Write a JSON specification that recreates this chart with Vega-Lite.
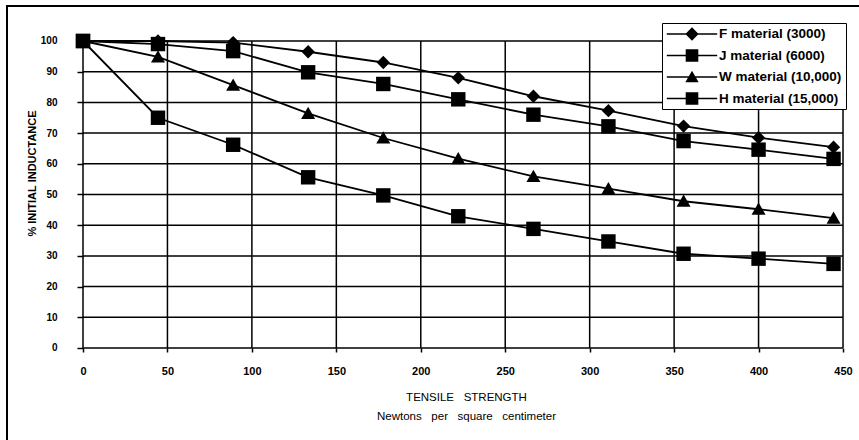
{
  "$schema": "https://vega.github.io/schema/vega-lite/v6.json",
  "width": 852,
  "height": 434,
  "autosize": {"type": "none"},
  "padding": {"left": 7, "top": 6, "right": 0, "bottom": 0},
  "background": "white",
  "view": {"stroke": "black", "strokeWidth": 2, "strokeDash": [852, 1286, 434], "strokeDashOffset": 0},
  "config": {
    "font": "Liberation Sans",
    "axisX": {
      "orient": "bottom", "zindex": 2,
      "domain": false, "grid": false, "offset": -92,
      "tickSize": 4, "tickColor": "black", "tickWidth": 1.5,
      "labelFont": "Liberation Sans", "labelFontWeight": "bold", "labelFontSize": 11, "labelColor": "black",
      "labelPadding": 13, "labelFlush": false, "labelOverlap": false,
      "titleFont": "Liberation Sans", "titleFontWeight": "normal", "titleFontSize": 11.5, "titleColor": "black",
      "titleX": 459, "titleY": 43.5, "titleAlign": "center", "titleBaseline": "top", "titleLineHeight": 18.5
    },
    "axisY": {
      "orient": "left", "zindex": 2,
      "domain": false, "grid": false, "offset": -76,
      "tickSize": 6, "tickColor": "black", "tickWidth": 1.5,
      "labelFont": "Liberation Sans Narrow, Liberation Sans", "labelFontWeight": "bold", "labelFontSize": 10, "labelColor": "black",
      "labelPadding": 20, "labelFlush": false, "labelOverlap": false,
      "titleFont": "Liberation Sans Narrow, Liberation Sans", "titleFontWeight": "bold", "titleFontSize": 11, "titleColor": "black",
      "titleX": -51, "titleY": 167, "titleAngle": 270, "titleAlign": "center", "titleBaseline": "middle"
    }
  },
  "datasets": {
    "series": [
      {"material": "F material (3000)", "x": 0, "y": 100},
      {"material": "F material (3000)", "x": 44.4, "y": 100},
      {"material": "F material (3000)", "x": 88.9, "y": 99.5},
      {"material": "F material (3000)", "x": 133.3, "y": 96.5},
      {"material": "F material (3000)", "x": 177.8, "y": 93},
      {"material": "F material (3000)", "x": 222.2, "y": 88},
      {"material": "F material (3000)", "x": 266.7, "y": 82},
      {"material": "F material (3000)", "x": 311.1, "y": 77.3},
      {"material": "F material (3000)", "x": 355.6, "y": 72.3},
      {"material": "F material (3000)", "x": 400, "y": 68.5},
      {"material": "F material (3000)", "x": 444.4, "y": 65.4},
      {"material": "J material (6000)", "x": 0, "y": 100},
      {"material": "J material (6000)", "x": 44.4, "y": 99},
      {"material": "J material (6000)", "x": 88.9, "y": 96.7},
      {"material": "J material (6000)", "x": 133.3, "y": 89.8},
      {"material": "J material (6000)", "x": 177.8, "y": 86},
      {"material": "J material (6000)", "x": 222.2, "y": 81},
      {"material": "J material (6000)", "x": 266.7, "y": 76},
      {"material": "J material (6000)", "x": 311.1, "y": 72.2},
      {"material": "J material (6000)", "x": 355.6, "y": 67.4},
      {"material": "J material (6000)", "x": 400, "y": 64.6},
      {"material": "J material (6000)", "x": 444.4, "y": 61.6},
      {"material": "W material (10,000)", "x": 0, "y": 100},
      {"material": "W material (10,000)", "x": 44.4, "y": 94.8},
      {"material": "W material (10,000)", "x": 88.9, "y": 85.6},
      {"material": "W material (10,000)", "x": 133.3, "y": 76.4},
      {"material": "W material (10,000)", "x": 177.8, "y": 68.4},
      {"material": "W material (10,000)", "x": 222.2, "y": 61.7},
      {"material": "W material (10,000)", "x": 266.7, "y": 55.9},
      {"material": "W material (10,000)", "x": 311.1, "y": 51.9},
      {"material": "W material (10,000)", "x": 355.6, "y": 47.8},
      {"material": "W material (10,000)", "x": 400, "y": 45.2},
      {"material": "W material (10,000)", "x": 444.4, "y": 42.3},
      {"material": "H material (15,000)", "x": 0, "y": 100},
      {"material": "H material (15,000)", "x": 44.4, "y": 75},
      {"material": "H material (15,000)", "x": 88.9, "y": 66.2},
      {"material": "H material (15,000)", "x": 133.3, "y": 55.6},
      {"material": "H material (15,000)", "x": 177.8, "y": 49.7},
      {"material": "H material (15,000)", "x": 222.2, "y": 42.9},
      {"material": "H material (15,000)", "x": 266.7, "y": 38.8},
      {"material": "H material (15,000)", "x": 311.1, "y": 34.7},
      {"material": "H material (15,000)", "x": 355.6, "y": 30.7},
      {"material": "H material (15,000)", "x": 400, "y": 29.1},
      {"material": "H material (15,000)", "x": 444.4, "y": 27.4}
    ],
    "gridx": [{"gx": 0}, {"gx": 50}, {"gx": 100}, {"gx": 150}, {"gx": 200}, {"gx": 250}, {"gx": 300}, {"gx": 350}, {"gx": 400}, {"gx": 450}],
    "gridy": [{"gy": 0}, {"gy": 10}, {"gy": 20}, {"gy": 30}, {"gy": 40}, {"gy": 50}, {"gy": 60}, {"gy": 70}, {"gy": 80}, {"gy": 90}, {"gy": 100}]
  },
  "resolve": {"scale": {"shape": "independent"}, "legend": {"shape": "independent"}},
  "layer": [
    {
      "data": {"name": "gridx"},
      "mark": {"type": "rule", "color": "black", "strokeWidth": 1.5},
      "encoding": {
        "x": {"field": "gx", "type": "quantitative", "scale": {"domain": [-45, 459.47], "nice": false, "zero": false}, "title": ["TENSILE\u00a0\u00a0 STRENGTH", "Newtons\u00a0\u00a0 per\u00a0\u00a0 square\u00a0\u00a0 centimeter"], "axis": {"values": [0, 50, 100, 150, 200, 250, 300, 350, 400, 450], "format": "d"}},
        "y": {"datum": 0, "type": "quantitative", "scale": {"domain": [-29.97, 111.4], "nice": false, "zero": false}, "title": "% INITIAL INDUCTANCE", "axis": {"values": [0, 10, 20, 30, 40, 50, 60, 70, 80, 90, 100], "format": "d"}},
        "y2": {"datum": 100}
      }
    },
    {
      "data": {"name": "gridy"},
      "mark": {"type": "rule", "color": "black", "strokeWidth": 1.5},
      "encoding": {
        "y": {"field": "gy", "type": "quantitative", "scale": {"domain": [-29.97, 111.4], "nice": false, "zero": false}, "title": "% INITIAL INDUCTANCE", "axis": {"values": [0, 10, 20, 30, 40, 50, 60, 70, 80, 90, 100], "format": "d"}},
        "x": {"datum": 0, "type": "quantitative", "scale": {"domain": [-45, 459.47], "nice": false, "zero": false}, "title": ["TENSILE\u00a0\u00a0 STRENGTH", "Newtons\u00a0\u00a0 per\u00a0\u00a0 square\u00a0\u00a0 centimeter"], "axis": {"values": [0, 50, 100, 150, 200, 250, 300, 350, 400, 450], "format": "d"}},
        "x2": {"datum": 450}
      }
    },
    {
      "data": {"name": "series"},
      "mark": {"type": "line", "color": "black", "strokeWidth": 1.8},
      "encoding": {
        "x": {"field": "x", "type": "quantitative", "scale": {"domain": [-45, 459.47], "nice": false, "zero": false}, "title": ["TENSILE\u00a0\u00a0 STRENGTH", "Newtons\u00a0\u00a0 per\u00a0\u00a0 square\u00a0\u00a0 centimeter"], "axis": {"values": [0, 50, 100, 150, 200, 250, 300, 350, 400, 450], "format": "d"}},
        "y": {"field": "y", "type": "quantitative", "scale": {"domain": [-29.97, 111.4], "nice": false, "zero": false}, "title": "% INITIAL INDUCTANCE", "axis": {"values": [0, 10, 20, 30, 40, 50, 60, 70, 80, 90, 100], "format": "d"}},
        "detail": {"field": "material"}
      }
    },
    {
      "data": {"name": "series"},
      "mark": {"type": "point", "filled": true, "color": "black", "opacity": 1, "size": 196},
      "encoding": {
        "x": {"field": "x", "type": "quantitative", "scale": {"domain": [-45, 459.47], "nice": false, "zero": false}, "title": ["TENSILE\u00a0\u00a0 STRENGTH", "Newtons\u00a0\u00a0 per\u00a0\u00a0 square\u00a0\u00a0 centimeter"], "axis": {"values": [0, 50, 100, 150, 200, 250, 300, 350, 400, 450], "format": "d"}},
        "y": {"field": "y", "type": "quantitative", "scale": {"domain": [-29.97, 111.4], "nice": false, "zero": false}, "title": "% INITIAL INDUCTANCE", "axis": {"values": [0, 10, 20, 30, 40, 50, 60, 70, 80, 90, 100], "format": "d"}},
        "shape": {
          "field": "material", "type": "nominal",
          "scale": {
            "domain": ["F material (3000)", "J material (6000)", "W material (10,000)", "H material (15,000)"],
            "range": ["M0,-0.95L0.95,0L0,0.95L-0.95,0Z", "M-1.03,-1.03H1.03V1.03H-1.03Z", "M0,-0.95L1,0.8L-1,0.8Z", "M-1.03,-1.03H1.03V1.03H-1.03Z"]
          },
          "legend": null
        }
      }
    },
    {
      "data": {"name": "series"},
      "mark": {"type": "point", "filled": true, "color": "black", "opacity": 0, "size": 196},
      "encoding": {
        "x": {"field": "x", "type": "quantitative", "scale": {"domain": [-45, 459.47], "nice": false, "zero": false}, "title": ["TENSILE\u00a0\u00a0 STRENGTH", "Newtons\u00a0\u00a0 per\u00a0\u00a0 square\u00a0\u00a0 centimeter"], "axis": {"values": [0, 50, 100, 150, 200, 250, 300, 350, 400, 450], "format": "d"}},
        "y": {"field": "y", "type": "quantitative", "scale": {"domain": [-29.97, 111.4], "nice": false, "zero": false}, "title": "% INITIAL INDUCTANCE", "axis": {"values": [0, 10, 20, 30, 40, 50, 60, 70, 80, 90, 100], "format": "d"}},
        "shape": {
          "field": "material", "type": "nominal",
          "scale": {
            "domain": ["F material (3000)", "J material (6000)", "W material (10,000)", "H material (15,000)"],
            "range": [
              "M-3.6,-0.11H3.6V0.11H-3.6Z M0,-0.95L0.95,0L0,0.95L-0.95,0Z",
              "M-3.6,-0.11H3.6V0.11H-3.6Z M-0.9,-0.9H0.9V0.9H-0.9Z",
              "M-3.6,-0.11H3.6V0.11H-3.6Z M0,-0.9L0.95,0.75L-0.95,0.75Z",
              "M-3.6,-0.11H3.6V0.11H-3.6Z M-0.9,-0.9H0.9V0.9H-0.9Z"
            ]
          },
          "legend": {
            "title": null,
            "orient": "none", "legendX": 655, "legendY": 17,
            "strokeColor": "black", "fillColor": "white",
            "padding": 4, "rowPadding": 7.5,
            "symbolSize": 196, "symbolOffset": 19, "labelOffset": 20,
            "symbolOpacity": 1, "symbolFillColor": "black", "symbolStrokeWidth": 0,
            "labelFont": "Liberation Sans", "labelFontWeight": "bold", "labelFontSize": 13.5, "labelColor": "black",
            "encode": {
              "legend": {"strokeWidth": {"value": 1.5}}
            }
          }
        }
      }
    }
  ]
}
